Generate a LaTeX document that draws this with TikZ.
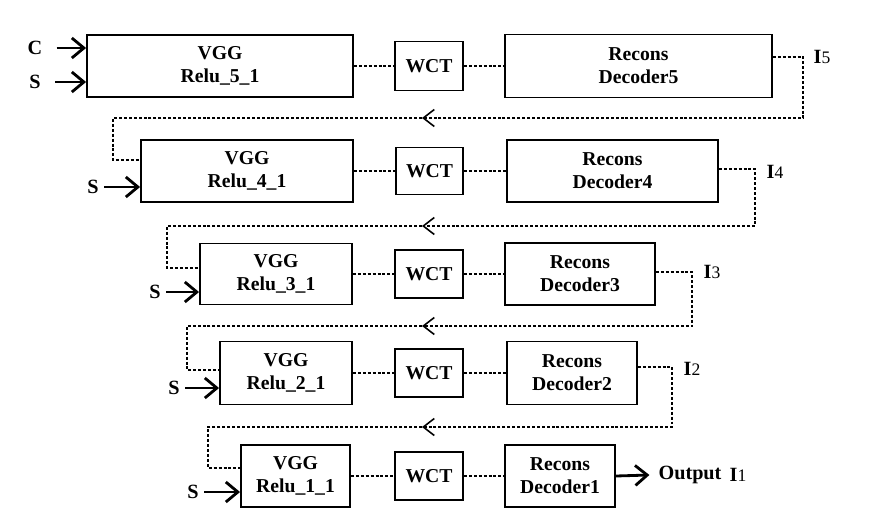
\documentclass[tikz,border=0pt]{standalone}
\usepackage{fontspec}
\setmainfont{Liberation Serif}
\usetikzlibrary{arrows.meta}

\tikzset{
  blk/.style={draw, line width=1.1pt, align=center, inner sep=0pt,
    font=\bfseries\fontsize{11.2}{13}\selectfont},
  lbl/.style={font=\bfseries\fontsize{11.5}{13}\selectfont, inner sep=1pt},
  link/.style={line width=0.8pt, dash pattern=on 1.7pt off 1.1pt},
  feed/.style={link, line cap=butt},
  inarr/.style={line width=1.6pt, -{Straight Barb[length=2.4mm, width=4mm, line width=1.6pt]}},
  backtip/.style={-{Straight Barb[length=2.2mm, width=3.4mm, line width=0.9pt]}}
}
\newcommand{\idx}[1]{{\mdseries\fontsize{10}{12}\selectfont #1}}

\begin{document}
\begin{tikzpicture}[x=0.02cm, y=-0.02cm]
\useasboundingbox (0,0) rectangle (878,517);

% stage 5
\node[blk, minimum width=5.32cm, minimum height=1.24cm] (vgg5) at (220,66) {VGG\\Relu\_5\_1};
\node[blk, minimum width=1.36cm, minimum height=0.98cm] (wct5) at (429,66) {WCT};
\node[blk, minimum width=5.34cm, minimum height=1.26cm] (rec5) at (638.5,66) {Recons\\Decoder5};
% stage 4
\node[blk, minimum width=4.24cm, minimum height=1.24cm] (vgg4) at (247,171) {VGG\\Relu\_4\_1};
\node[blk, minimum width=1.34cm, minimum height=0.94cm] (wct4) at (429.5,171) {WCT};
\node[blk, minimum width=4.22cm, minimum height=1.24cm] (rec4) at (612.5,171) {Recons\\Decoder4};
% stage 3
\node[blk, minimum width=3.04cm, minimum height=1.22cm] (vgg3) at (276,274) {VGG\\Relu\_3\_1};
\node[blk, minimum width=1.36cm, minimum height=0.96cm] (wct3) at (429,274) {WCT};
\node[blk, minimum width=3.00cm, minimum height=1.24cm] (rec3) at (580,274) {Recons\\Decoder3};
% stage 2
\node[blk, minimum width=2.64cm, minimum height=1.26cm] (vgg2) at (286,373) {VGG\\Relu\_2\_1};
\node[blk, minimum width=1.36cm, minimum height=0.96cm] (wct2) at (429,373) {WCT};
\node[blk, minimum width=2.60cm, minimum height=1.26cm] (rec2) at (572,373) {Recons\\Decoder2};
% stage 1
\node[blk, minimum width=2.18cm, minimum height=1.24cm] (vgg1) at (295.5,476) {VGG\\Relu\_1\_1};
\node[blk, minimum width=1.36cm, minimum height=0.96cm] (wct1) at (429,476) {WCT};
\node[blk, minimum width=2.20cm, minimum height=1.24cm] (rec1) at (560,476) {Recons\\Decoder1};

\foreach \n in {1,...,5} {
  \draw[link] (vgg\n) -- (wct\n);
  \draw[link] (wct\n) -- (rec\n);
}

% inputs
\node[lbl] (c5) at (35,48) {C};
\node[lbl] (s5) at (35,82) {S};
\node[lbl] (s4) at (93,187) {S};
\node[lbl] (s3) at (155,292) {S};
\node[lbl] (s2) at (174,388) {S};
\node[lbl] (s1) at (193,492) {S};
\draw[inarr] ([xshift=7pt]c5.east) -- (c5 -| vgg5.west);
\draw[inarr] ([xshift=7pt]s5.east) -- (s5 -| vgg5.west);
\foreach \n in {1,...,4} {
  \draw[inarr] ([xshift=2pt]s\n.east) -- (s\n -| vgg\n.west);
}

% intermediate outputs
\node[lbl] (i5) at (822,57) {I\idx{5}};
\node[lbl] (i4) at (775,172) {I\idx{4}};
\node[lbl] (i3) at (712,272) {I\idx{3}};
\node[lbl] (i2) at (692,369) {I\idx{2}};
\node[lbl] (out) at (690,475) {Output};
\node[lbl] (i1) at (738,475) {I\idx{1}};
\draw[inarr] (rec1.east) -- ([xshift=-4pt]out.west);

% feedback loops
\coordinate (r5) at (803,118); \coordinate (a5) at (422,118); \coordinate (l5) at (113,118);
\coordinate (r4) at (755,226); \coordinate (a4) at (422,226); \coordinate (l4) at (167,226);
\coordinate (r3) at (692,326); \coordinate (a3) at (422,326); \coordinate (l3) at (187,326);
\coordinate (r2) at (672,427); \coordinate (a2) at (422,427); \coordinate (l2) at (208,427);

\draw[feed, backtip] ([yshift=0.18cm]rec5.east) -| (r5) -- (a5);
\draw[feed] (a5) -- (l5) |- ([yshift=0.22cm]vgg4.west);
\draw[feed, backtip] ([yshift=0.04cm]rec4.east) -| (r4) -- (a4);
\draw[feed] (a4) -- (l4) |- ([yshift=0.12cm]vgg3.west);
\draw[feed, backtip] ([yshift=0.04cm]rec3.east) -| (r3) -- (a3);
\draw[feed] (a3) -- (l3) |- ([yshift=0.06cm]vgg2.west);
\draw[feed, backtip] ([yshift=0.12cm]rec2.east) -| (r2) -- (a2);
\draw[feed] (a2) -- (l2) |- ([yshift=0.16cm]vgg1.west);
\end{tikzpicture}
\end{document}
